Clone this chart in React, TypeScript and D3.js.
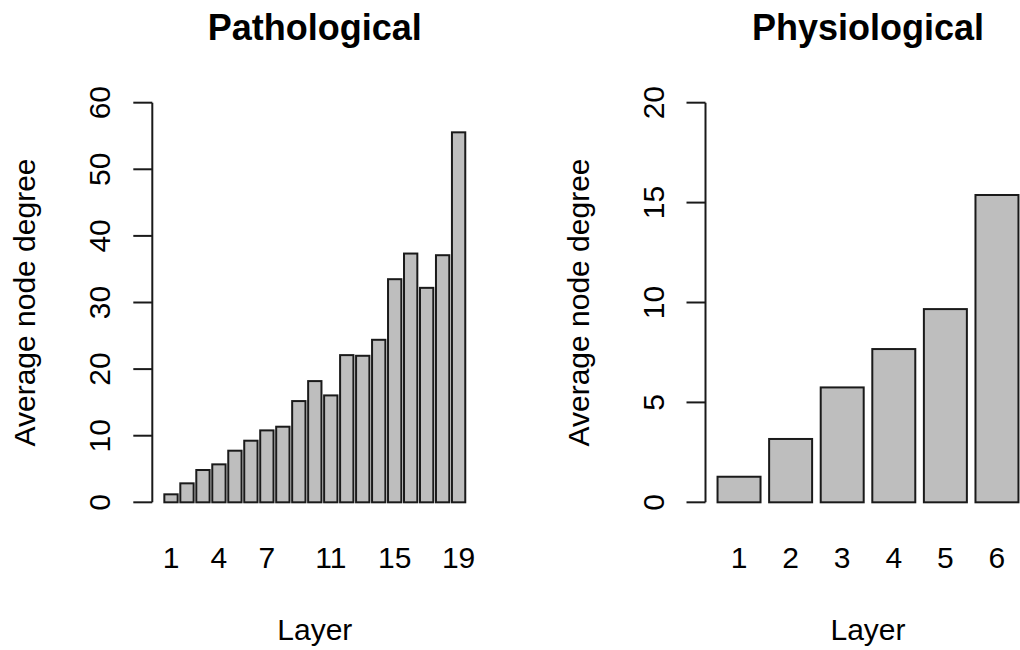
import * as d3 from "d3";

// average node degree per layer
const pathLayers = d3.range(1, 20);
const pathValues = [1.2, 2.85, 4.85, 5.7, 7.75, 9.25, 10.8, 11.35, 15.2, 18.2, 16.05, 22.1, 22.0, 24.4, 33.5, 37.35, 32.2, 37.1, 55.55];
const pathTickLabels = [1, 4, 7, 11, 15, 19];
const pathYTicks = [0, 10, 20, 30, 40, 50, 60];

const physLayers = d3.range(1, 7);
const physValues = [1.28, 3.17, 5.75, 7.67, 9.67, 15.38];
const physTickLabels = [1, 2, 3, 4, 5, 6];
const physYTicks = [0, 5, 10, 15, 20];

const W = 1020;
const H = 650;
const FONT = "'Liberation Sans', Arial, Helvetica, sans-serif";

// plot region (same for both panels, R par(mar) style)
const plot = { left: 152.3, right: 477.3, top: 86.7, bottom: 518.3 };

function BarPanel({ offsetX, title, layers, values, tickLabels, yTicks, yMax }) {
  const n = layers.length;
  // R barplot coordinates: bar i spans [0.2 + 1.2i, 1.2(i+1)], xaxs="r" adds 4%
  const xl = 0.2;
  const xr = 1.2 * n;
  const ext = (xr - xl) * 0.04;
  const x = d3.scaleLinear().domain([xl - ext, xr + ext]).range([plot.left, plot.right]);
  const yExt = yMax * 0.04;
  const y = d3.scaleLinear().domain([-yExt, yMax + yExt]).range([plot.bottom, plot.top]);

  const axisX = plot.left;
  const midX = (plot.left + plot.right) / 2;
  const midY = (plot.top + plot.bottom) / 2;
  const barLeft = (i) => x(0.2 + 1.2 * i);
  const barRight = (i) => x(1.2 * (i + 1));

  return (
    <g transform={`translate(${offsetX},0)`}>
      <text x={midX} y={40} textAnchor="middle" fontFamily={FONT} fontWeight="bold" fontSize={36}>
        {title}
      </text>

      {values.map((v, i) => (
        <rect
          key={layers[i]}
          x={barLeft(i)}
          y={y(v)}
          width={barRight(i) - barLeft(i)}
          height={y(0) - y(v)}
          fill="#bebebe"
          stroke="#1a1a1a"
          strokeWidth={2}
        />
      ))}

      {/* y axis */}
      <line x1={axisX} x2={axisX} y1={y(yTicks[0])} y2={y(yTicks[yTicks.length - 1])} stroke="#1a1a1a" strokeWidth={2} />
      {yTicks.map((t) => (
        <g key={t}>
          <line x1={axisX - 19} x2={axisX} y1={y(t)} y2={y(t)} stroke="#1a1a1a" strokeWidth={2} />
          <text
            transform={`translate(${axisX - 42},${y(t)}) rotate(-90)`}
            textAnchor="middle"
            fontFamily={FONT}
            fontSize={30}
          >
            {t}
          </text>
        </g>
      ))}

      {/* bar names */}
      {tickLabels.map((l) => {
        const i = layers.indexOf(l);
        return (
          <text
            key={l}
            x={(barLeft(i) + barRight(i)) / 2}
            y={568}
            textAnchor="middle"
            fontFamily={FONT}
            fontSize={30}
          >
            {l}
          </text>
        );
      })}

      <text x={midX} y={640} textAnchor="middle" fontFamily={FONT} fontSize={30}>
        Layer
      </text>
      <text
        transform={`translate(${axisX - 117},${midY}) rotate(-90)`}
        textAnchor="middle"
        fontFamily={FONT}
        fontSize={30}
      >
        Average node degree
      </text>
    </g>
  );
}

export default function App() {
  return (
    <div style={{ position: "absolute", left: 0, top: 0 }}>
      <svg width={W} height={H} style={{ display: "block", background: "#fff" }}>
        <BarPanel
          offsetX={0}
          title="Pathological"
          layers={pathLayers}
          values={pathValues}
          tickLabels={pathTickLabels}
          yTicks={pathYTicks}
          yMax={60}
        />
        <BarPanel
          offsetX={553.2}
          title="Physiological"
          layers={physLayers}
          values={physValues}
          tickLabels={physTickLabels}
          yTicks={physYTicks}
          yMax={20}
        />
      </svg>
    </div>
  );
}
